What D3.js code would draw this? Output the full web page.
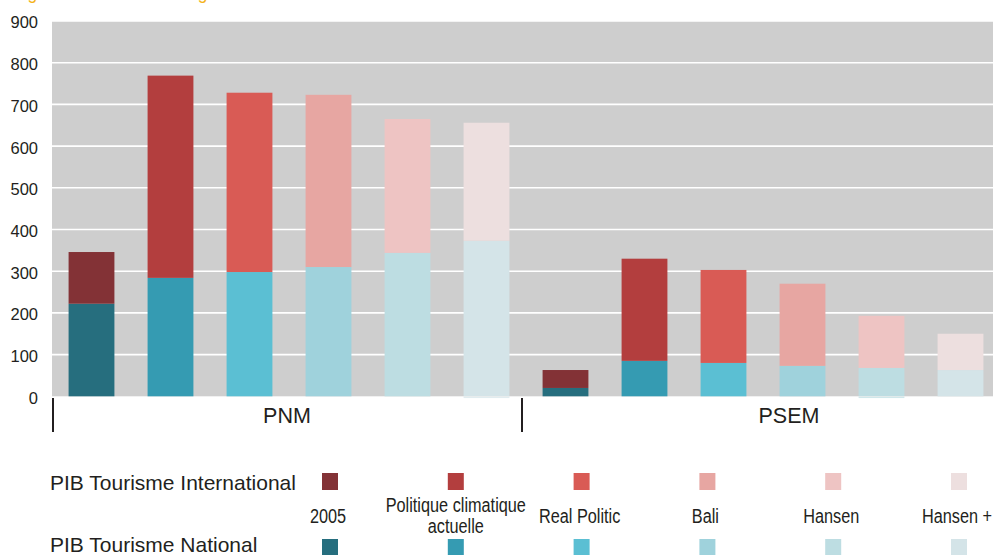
<!DOCTYPE html>
<html>
<head>
<meta charset="utf-8">
<script src="https://cdn.jsdelivr.net/npm/d3@7"></script>
<style>
  html, body { margin: 0; padding: 0; background: #ffffff; overflow: hidden; }
  svg { display: block; }
  text { font-family: "Liberation Sans", Arial, sans-serif; fill: #231f20; }
</style>
</head>
<body>
<svg id="chart" width="993" height="555"></svg>
<script>
// ---------------- data ----------------
const groups = ["PNM", "PSEM"];
const scenarios = ["2005", "Politique climatique actuelle", "Real Politic", "Bali", "Hansen", "Hansen +"];
const scenarioLabelLines = [["2005"], ["Politique climatique", "actuelle"], ["Real Politic"], ["Bali"], ["Hansen"], ["Hansen +"]];
const seriesNames = ["PIB Tourisme International", "PIB Tourisme National"];

const nationalPNM       = [222, 284, 298, 310, 344, 373];
const internationalPNM  = [124, 485, 430, 413, 321, 283];
const nationalPSEM      = [20, 85, 80, 73, 68, 63];
const internationalPSEM = [43, 245, 223, 197, 125, 87];
const residualPNM       = [0, 0, 0, 0, 0, -3];
const residualPSEM      = [0, 0, 0, 0, -3, 0];

const yTicks = [0, 100, 200, 300, 400, 500, 600, 700, 800, 900];

const colorsInternational = ["#833236", "#b33e3e", "#d95b55", "#e7a6a2", "#eec4c3", "#eddfdf"];
const colorsNational      = ["#266e7e", "#359bb2", "#5bbfd3", "#9fd2dc", "#bddde2", "#d4e4e8"];

const titleText = "Figure 3 : Le PIB des régions en 2050";

// -------------- build rows --------------
const rows = [];
groups.forEach((g, gi) => {
  const nat = gi === 0 ? nationalPNM : nationalPSEM;
  const intl = gi === 0 ? internationalPNM : internationalPSEM;
  const res = gi === 0 ? residualPNM : residualPSEM;
  scenarios.forEach((s, si) => {
    rows.push({ key: g + "|" + s, group: g, si, national: nat[si], international: intl[si], residual: res[si] });
  });
});

// -------------- layout --------------
const svg = d3.select("#chart");
const plotLeft = 52, plotRight = 993, plotTop = 21, plotBottom = 396.3;

const x = d3.scaleBand()
  .domain(rows.map(d => d.key))
  .range([plotLeft, plotLeft + 12 * 79])
  .paddingInner(0.42)
  .paddingOuter(0.21);

const y = d3.scaleLinear().domain([0, 900]).range([plotBottom, plotTop]);

// title (cropped above the frame: only descenders remain visible)
svg.append("text")
  .attr("x", 13).attr("y", -0.6)
  .style("font-size", "17.5px")
  .style("fill", "#f4b31a")
  .text(titleText);

// plot background
svg.append("rect")
  .attr("x", plotLeft).attr("y", plotTop)
  .attr("width", plotRight - plotLeft).attr("height", plotBottom - plotTop)
  .attr("fill", "#cecece");

// gridlines
svg.append("g").selectAll("line")
  .data(yTicks.filter(t => t > 0))
  .join("line")
  .attr("x1", plotLeft).attr("x2", plotRight)
  .attr("y1", d => y(d)).attr("y2", d => y(d))
  .attr("stroke", "#ffffff").attr("stroke-width", 1.6);

// y axis labels
const yAxis = d3.axisLeft(y).tickValues(yTicks).tickSize(0).tickPadding(14);
const yG = svg.append("g").attr("transform", `translate(${plotLeft},0)`).call(yAxis);
yG.select(".domain").remove();
yG.selectAll("text")
  .style("font-size", "16.5px")
  .style("font-family", "'Liberation Sans', Arial, sans-serif")
  .attr("fill", "#231f20")
  .attr("dy", "0.42em");

// bars
const bars = svg.append("g");
bars.selectAll("rect.nat").data(rows).join("rect")
  .attr("class", "nat")
  .attr("x", d => x(d.key)).attr("width", x.bandwidth())
  .attr("y", d => y(d.national)).attr("height", d => y(0) - y(d.national))
  .attr("fill", d => colorsNational[d.si]);
bars.selectAll("rect.intl").data(rows).join("rect")
  .attr("class", "intl")
  .attr("x", d => x(d.key)).attr("width", x.bandwidth())
  .attr("y", d => y(d.national + d.international)).attr("height", d => y(d.national) - y(d.national + d.international))
  .attr("fill", d => colorsInternational[d.si]);
bars.selectAll("rect.res").data(rows.filter(d => d.residual < 0)).join("rect")
  .attr("class", "res")
  .attr("x", d => x(d.key)).attr("width", x.bandwidth())
  .attr("y", d => y(0) + 1).attr("height", d => y(d.residual) - y(0) - 0.5)
  .attr("fill", d => colorsNational[d.si]);

// group dividers and labels
const dividerX = [53, 522];
svg.append("g").selectAll("line").data(dividerX).join("line")
  .attr("x1", d => d).attr("x2", d => d)
  .attr("y1", 398).attr("y2", 432)
  .attr("stroke", "#231f20").attr("stroke-width", 2);

const groupLabelX = [287, 789];
svg.append("g").selectAll("text").data(groups).join("text")
  .attr("x", (d, i) => groupLabelX[i]).attr("y", 423)
  .attr("text-anchor", "middle")
  .style("font-size", "21.5px")
  .text(d => d);

// legend
const lx = d3.scalePoint().domain(scenarios).range([330, 959]);
const legend = svg.append("g");
legend.append("text").attr("x", 50).attr("y", 490).style("font-size", "21px").text(seriesNames[0]);
legend.append("text").attr("x", 50).attr("y", 552).style("font-size", "21px").text(seriesNames[1]);

legend.selectAll("rect.li").data(scenarios).join("rect")
  .attr("class", "li")
  .attr("x", d => lx(d) - 8).attr("y", 473).attr("width", 16).attr("height", 17)
  .attr("fill", (d, i) => colorsInternational[i]);
legend.selectAll("rect.ln").data(scenarios).join("rect")
  .attr("class", "ln")
  .attr("x", d => lx(d) - 8).attr("y", 539).attr("width", 16).attr("height", 17)
  .attr("fill", (d, i) => colorsNational[i]);

// condensed legend labels (narrow face emulated by horizontal scaling)
const narrow = 0.835;
const lbl = legend.selectAll("g.sl").data(scenarios).join("g")
  .attr("class", "sl")
  .attr("transform", d => `translate(${lx(d) - 2},0) scale(${narrow},1)`);
lbl.each(function(d, i) {
  const lines = scenarioLabelLines[i];
  const base = lines.length === 1 ? 523 : 512;
  const t = d3.select(this).append("text")
    .attr("text-anchor", "middle")
    .style("font-size", "19.5px");
  lines.forEach((ln, k) => {
    t.append("tspan").attr("x", lines.length > 1 ? 2 / narrow : 0).attr("y", base + k * 21).text(ln);
  });
});
</script>
</body>
</html>
